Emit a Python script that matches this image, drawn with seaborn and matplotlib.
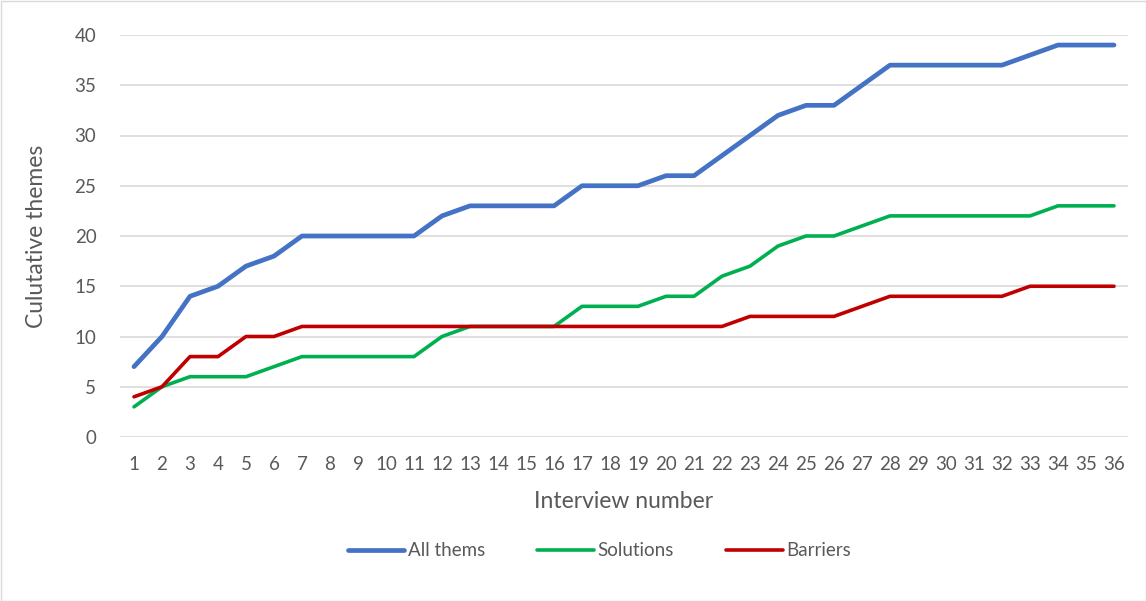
import matplotlib
matplotlib.use("Agg")
import matplotlib.pyplot as plt
import seaborn as sns
import pandas as pd
from matplotlib.patches import Rectangle

interviews = list(range(1, 37))
all_thems = [7, 10, 14, 15, 17, 18, 20, 20, 20, 20, 20, 22, 23, 23, 23, 23, 25, 25,
             25, 26, 26, 28, 30, 32, 33, 33, 35, 37, 37, 37, 37, 37, 38, 39, 39, 39]
solutions = [3, 5, 6, 6, 6, 7, 8, 8, 8, 8, 8, 10, 11, 11, 11, 11, 13, 13,
             13, 14, 14, 16, 17, 19, 20, 20, 21, 22, 22, 22, 22, 22, 22, 23, 23, 23]
barriers = [4, 5, 8, 8, 10, 10, 11, 11, 11, 11, 11, 11, 11, 11, 11, 11, 11, 11,
            11, 11, 11, 11, 12, 12, 12, 12, 13, 14, 14, 14, 14, 14, 15, 15, 15, 15]
series_names = ["All thems", "Solutions", "Barriers"]
colors = ["#4472C4", "#00B050", "#C00000"]

df = pd.concat([
    pd.DataFrame({"Interview": interviews, "Themes": vals, "Series": name})
    for name, vals in zip(series_names, [all_thems, solutions, barriers])
])

sns.set_theme(style="white")
plt.rcParams['font.family'] = ['Lato', 'DejaVu Sans']

fig = plt.figure(figsize=(11.46, 6.01), dpi=100)
ax = fig.add_axes([120/1146, 1 - 437/601, (1128-120)/1146, (437-35)/601])

sns.lineplot(data=df, x="Interview", y="Themes", hue="Series",
             palette=dict(zip(series_names, colors)), ax=ax, legend=False)
widths = [3.4, 2.6, 2.6]
for line, w in zip(ax.get_lines(), widths):
    line.set_linewidth(w)
    line.set_solid_capstyle("round")
    line.set_solid_joinstyle("round")

ax.set_xlim(0.5, 36.5)
ax.set_ylim(0, 40)
ax.set_xticks(interviews)
ax.set_xticklabels([str(i) for i in interviews])
ax.set_yticks(range(0, 41, 5))
ax.yaxis.grid(True, color="#D9D9D9", linewidth=1.2)
ax.set_axisbelow(True)
for s in ax.spines.values():
    s.set_visible(False)
ax.tick_params(axis="both", length=0, labelsize=13.5, labelcolor="#595959")
ax.tick_params(axis="x", pad=14)
ax.tick_params(axis="y", pad=17)
ax.set_xlabel("Interview number", fontsize=16.5, color="#595959", labelpad=13)
ax.set_ylabel("Culutative themes", fontsize=16.5, color="#595959", labelpad=20)

handles = [plt.Line2D([0], [0], color=c, lw=w) for c, w in zip(colors, widths)]
fig.legend(handles, series_names, loc="center", bbox_to_anchor=(0.523, 1 - 551/601),
           ncol=3, frameon=False, fontsize=13.5, handlelength=3.0, columnspacing=2.8,
           handletextpad=0.2, labelcolor="#595959")

fig.add_artist(Rectangle((0.5/1146, 0.5/601), 1 - 1/1146, 1 - 1/601,
                         transform=fig.transFigure, fill=False,
                         edgecolor="#D9D9D9", linewidth=1))

fig.savefig("out.png", dpi=100)
